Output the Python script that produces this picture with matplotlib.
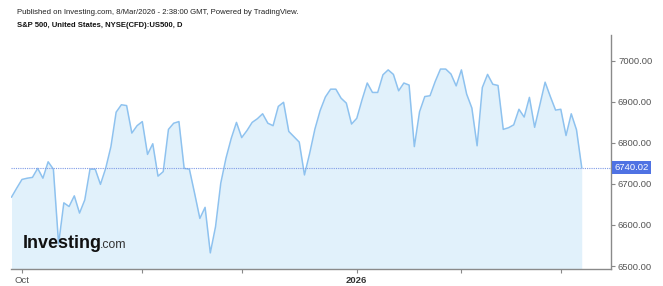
import matplotlib.pyplot as plt

plt.rcParams['font.family'] = ['Liberation Sans', 'DejaVu Sans']

# S&P 500 daily closes, 29 Sep 2025 .. 6 Mar 2026
closes = [6668, 6690, 6711, 6714, 6716, 6738, 6714, 6754, 6736, 6554,
          6654, 6645, 6671, 6629, 6661, 6736, 6736, 6699, 6738, 6791,
          6875, 6893, 6891, 6824, 6842, 6852, 6772, 6798, 6719, 6730,
          6833, 6848, 6852, 6738, 6736, 6677, 6616, 6643, 6532, 6596,
          6702, 6763, 6811, 6850, 6813, 6830, 6850, 6859, 6871, 6848,
          6842, 6889, 6899, 6828, 6815, 6802, 6722, 6775, 6834, 6879,
          6912, 6931, 6931, 6909, 6897, 6846, 6860, 6905, 6946, 6923,
          6923, 6966, 6978, 6967, 6927, 6946, 6941, 6791, 6876, 6913,
          6915, 6950, 6980, 6980, 6968, 6939, 6978, 6919, 6885, 6793,
          6935, 6967, 6943, 6940, 6833, 6837, 6844, 6882, 6863, 6911,
          6838, 6893, 6948, 6913, 6880, 6882, 6818, 6871, 6832, 6740.02]
last_price = 6740.02

# trading-day index of month starts
month_ticks = [2, 25, 44, 66, 86, 105]
month_labels = ['Oct', '', '', '2026', '', '']
price_ticks = [6500, 6600, 6700, 6800, 6900, 7000]

days = list(range(len(closes)))

fig = plt.figure(figsize=(6.63, 2.86), dpi=100)
ax = fig.add_axes([0.0166, 0.0594, 0.9050, 0.8182])

ax.fill_between(days, closes, 6400, color='#e1f1fb', linewidth=0)
ax.plot(days, closes, color='#8ec2ef', linewidth=1.1)
ax.axhline(last_price, color='#7f9be6', linewidth=0.8, linestyle=(0, (1, 1)))

ax.set_xlim(-0.1, 114.6)
ax.set_ylim(6492.7, 7063)

ax.yaxis.tick_right()
ax.set_yticks(price_ticks)
ax.set_yticklabels(['%.2f' % p for p in price_ticks])
ax.set_xticks(month_ticks)
ax.set_xticklabels(month_labels)
ax.tick_params(axis='both', colors='#888888', labelcolor='#555555',
               labelsize=6.8, length=3, width=0.8, pad=2)
for lab in ax.get_xticklabels():
    if lab.get_text() == '2026':
        lab.set_fontweight('bold')
        lab.set_color('#333333')

for side in ['top', 'left']:
    ax.spines[side].set_visible(False)
for side in ['right', 'bottom']:
    ax.spines[side].set_color('#8a8a8a')
    ax.spines[side].set_linewidth(1.0)

# last price tag on the axis
ax.annotate('%.2f' % last_price, xy=(1.0, last_price),
            xycoords=('axes fraction', 'data'), xytext=(2.2, 0),
            textcoords='offset points', ha='left', va='center',
            fontsize=6.8, color='white',
            bbox=dict(boxstyle='square,pad=0.22', fc='#4f72e3', ec='none'))

fig.text(0.026, 0.955, 'Published on Investing.com, 8/Mar/2026 - 2:38:00 GMT, Powered by TradingView.',
         fontsize=5.55, color='#222222', va='center')
fig.text(0.026, 0.912, 'S&P 500, United States, NYSE(CFD):US500, D',
         fontsize=5.5, fontweight='bold', color='#111111', va='center')

# watermark logo
ax.text(0.019, 0.09, 'Investing', transform=ax.transAxes, fontsize=13,
        fontweight='bold', color='#111111', va='baseline')
ax.text(0.148, 0.09, '.com', transform=ax.transAxes, fontsize=8.8,
        color='#333333', va='baseline')

fig.savefig('out.png', dpi=100)
